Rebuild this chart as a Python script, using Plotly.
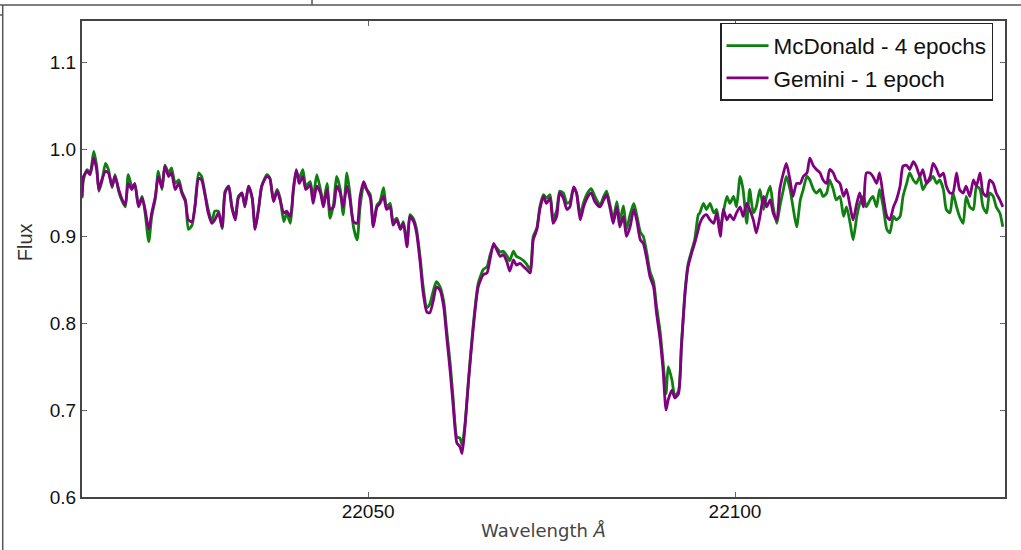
import plotly.graph_objects as go

# ---------------- data ----------------
wavelength = [
    22011.0, 22011.2, 22011.7, 22012.1, 22012.6, 22013.0, 22013.3, 22013.7, 22014.2, 22014.6,
    22015.1, 22015.5, 22016.0, 22016.4, 22016.9, 22017.3, 22017.8, 22018.2, 22018.7, 22019.2,
    22019.6, 22020.1, 22020.5, 22021.0, 22021.4, 22021.9, 22022.3, 22022.8, 22023.2, 22023.7,
    22024.2, 22024.6, 22025.1, 22025.5, 22026.0, 22026.4, 22026.9, 22027.3, 22027.8, 22028.2,
    22028.7, 22029.1, 22029.6, 22030.1, 22030.5, 22031.0, 22031.4, 22031.9, 22032.3, 22032.8,
    22033.2, 22033.7,
    22034.2, 22034.6, 22035.1, 22035.5, 22036.2, 22036.6, 22037.1, 22037.6, 22038.0, 22038.5,
    22038.9, 22039.4, 22039.8, 22040.2, 22040.6, 22041.1, 22041.5, 22042.1, 22042.5, 22043.0,
    22043.5, 22043.9, 22044.4, 22044.8, 22045.3, 22045.7, 22046.2, 22046.6, 22047.1, 22047.5,
    22048.0, 22048.5, 22048.9, 22049.4, 22049.8, 22050.3, 22050.7, 22051.2, 22051.6, 22052.1,
    22052.5, 22053.0, 22053.4, 22053.9, 22054.4, 22054.8, 22055.3,
    22055.7, 22056.2, 22056.6, 22057.1, 22057.5, 22058.0, 22058.4, 22058.9, 22059.3, 22059.8,
    22060.3, 22060.7, 22061.2, 22061.6, 22062.1, 22062.5, 22062.8, 22063.2, 22063.7, 22064.3,
    22065.0, 22065.7, 22066.2, 22066.6, 22067.1, 22067.5, 22068.0, 22068.4, 22068.9, 22069.3,
    22069.8, 22070.2, 22070.7, 22071.2, 22071.6, 22072.1, 22072.5, 22073.0, 22073.4, 22073.9,
    22074.3, 22074.8, 22075.2, 22075.7, 22076.1, 22076.6, 22077.1, 22077.5, 22078.0, 22078.4,
    22078.9,
    22079.4, 22079.9, 22080.4, 22080.9,
    22081.6, 22082.1, 22082.5, 22083.0, 22083.4, 22083.9, 22084.3, 22084.8, 22085.2, 22085.7,
    22086.2, 22086.6, 22087.1, 22087.5, 22088.0, 22088.4, 22088.9, 22089.3, 22089.8, 22090.2,
    22090.6, 22090.9, 22091.4, 22091.8, 22092.3, 22092.7, 22093.2, 22093.6, 22094.1, 22094.5,
    22095.0,
    22095.2, 22095.7, 22096.1, 22096.6, 22097.1, 22097.5, 22098.0, 22098.4, 22098.9, 22099.3,
    22099.8, 22100.2, 22100.7, 22101.1, 22101.6, 22102.0, 22102.5, 22102.9, 22103.4, 22103.9,
    22104.3, 22104.8, 22105.2, 22105.7, 22106.1, 22106.6, 22107.0, 22107.5, 22107.9, 22108.4,
    22108.9, 22109.3, 22109.8, 22110.2, 22110.7, 22111.1, 22111.6, 22112.0, 22112.5, 22112.9,
    22113.4, 22113.8, 22114.3, 22114.8, 22115.2, 22115.7, 22116.1, 22116.6, 22117.0, 22117.5,
    22117.9, 22118.4, 22118.8, 22119.3, 22119.7, 22120.2, 22120.7, 22121.1, 22121.6, 22122.0,
    22122.5, 22122.9, 22123.4, 22123.8, 22124.3, 22124.7, 22125.2, 22125.6, 22126.1, 22126.6,
    22127.0, 22127.5, 22127.9, 22128.4, 22128.8, 22129.3, 22129.7, 22130.2, 22130.6, 22131.1,
    22131.5, 22132.0, 22132.5, 22132.9, 22133.4, 22133.8, 22134.3, 22134.7, 22135.2, 22135.6,
    22136.1, 22136.5,
]

flux_mcdonald = [
    0.944, 0.965, 0.977, 0.973, 0.998, 0.981, 0.952, 0.963, 0.984, 0.977,
    0.956, 0.971, 0.952, 0.942, 0.934, 0.971, 0.958, 0.959, 0.936, 0.946,
    0.927, 0.894, 0.923, 0.944, 0.975, 0.954, 0.982, 0.973, 0.979, 0.961,
    0.965, 0.952, 0.942, 0.908, 0.913, 0.936, 0.973, 0.969, 0.948, 0.931,
    0.917, 0.929, 0.929, 0.909, 0.952, 0.958, 0.936, 0.921, 0.946, 0.950,
    0.936, 0.958,
    0.944, 0.909, 0.934, 0.958, 0.971, 0.967, 0.942, 0.954, 0.944, 0.917,
    0.927, 0.915, 0.952, 0.975, 0.967, 0.977, 0.958, 0.963, 0.944, 0.971,
    0.954, 0.938, 0.961, 0.921, 0.938, 0.969, 0.954, 0.925, 0.973, 0.950,
    0.911, 0.896, 0.934, 0.959, 0.954, 0.948, 0.913, 0.936, 0.940, 0.956,
    0.934, 0.938, 0.917, 0.921, 0.909, 0.917, 0.892,
    0.925, 0.920, 0.908, 0.875, 0.842, 0.818, 0.822, 0.838, 0.848, 0.842,
    0.825, 0.792, 0.752, 0.712, 0.669, 0.668, 0.660, 0.684, 0.738, 0.796,
    0.846, 0.862, 0.865, 0.878, 0.890, 0.887, 0.882, 0.883, 0.878, 0.872,
    0.883, 0.877, 0.875, 0.872, 0.868, 0.862, 0.900, 0.910, 0.934, 0.948,
    0.944, 0.948, 0.920, 0.930, 0.952, 0.950, 0.938, 0.940, 0.955, 0.950,
    0.925,
    0.940, 0.950, 0.955, 0.946,
    0.936, 0.946, 0.952, 0.935, 0.920, 0.940, 0.918, 0.935, 0.908, 0.925,
    0.938, 0.925, 0.905, 0.900, 0.880, 0.860, 0.848, 0.820, 0.790, 0.755,
    0.719, 0.750, 0.735, 0.716, 0.722, 0.776, 0.838, 0.868, 0.884, 0.896,
    0.925,
    0.927, 0.938, 0.931, 0.938, 0.927, 0.931, 0.908, 0.927, 0.946, 0.938,
    0.946, 0.934, 0.969, 0.954, 0.915, 0.954, 0.927, 0.934, 0.954, 0.931,
    0.946, 0.958, 0.934, 0.915, 0.934, 0.954, 0.969, 0.954, 0.934, 0.911,
    0.942, 0.954, 0.969, 0.965, 0.954, 0.950, 0.954, 0.946, 0.950, 0.965,
    0.954, 0.942, 0.946, 0.923, 0.934, 0.915, 0.896, 0.923, 0.938, 0.946,
    0.934, 0.942, 0.946, 0.934, 0.954, 0.934, 0.908, 0.904, 0.923, 0.919,
    0.923, 0.946, 0.961, 0.973, 0.965, 0.961, 0.969, 0.954, 0.961, 0.965,
    0.969, 0.961, 0.965, 0.954, 0.931, 0.927, 0.950, 0.934, 0.923, 0.915,
    0.946, 0.934, 0.931, 0.958, 0.954, 0.934, 0.927, 0.950, 0.946, 0.934,
    0.927, 0.911,
]

flux_gemini = [
    0.946, 0.969, 0.975, 0.971, 0.990, 0.977, 0.954, 0.965, 0.975, 0.973,
    0.958, 0.969, 0.954, 0.944, 0.936, 0.961, 0.954, 0.961, 0.934, 0.944,
    0.931, 0.908, 0.927, 0.946, 0.969, 0.956, 0.981, 0.969, 0.973, 0.954,
    0.961, 0.950, 0.940, 0.919, 0.917, 0.934, 0.967, 0.965, 0.946, 0.927,
    0.915, 0.919, 0.927, 0.911, 0.950, 0.958, 0.934, 0.919, 0.944, 0.950,
    0.934, 0.958,
    0.944, 0.908, 0.934, 0.958, 0.969, 0.967, 0.940, 0.952, 0.942, 0.927,
    0.929, 0.923, 0.954, 0.977, 0.961, 0.969, 0.954, 0.959, 0.938, 0.958,
    0.950, 0.934, 0.954, 0.931, 0.934, 0.958, 0.950, 0.934, 0.958, 0.944,
    0.917, 0.915, 0.946, 0.963, 0.954, 0.944, 0.911, 0.934, 0.938, 0.946,
    0.931, 0.934, 0.913, 0.919, 0.908, 0.915, 0.888,
    0.923, 0.917, 0.904, 0.869, 0.835, 0.813, 0.812, 0.827, 0.842, 0.838,
    0.819, 0.785, 0.743, 0.704, 0.662, 0.658, 0.650, 0.681, 0.735, 0.792,
    0.842, 0.856, 0.858, 0.873, 0.892, 0.885, 0.877, 0.879, 0.871, 0.860,
    0.873, 0.867, 0.869, 0.865, 0.862, 0.858, 0.896, 0.908, 0.931, 0.946,
    0.938, 0.944, 0.915, 0.923, 0.950, 0.944, 0.931, 0.934, 0.957, 0.950,
    0.919,
    0.935, 0.945, 0.950, 0.940,
    0.934, 0.942, 0.948, 0.931, 0.915, 0.934, 0.911, 0.923, 0.900, 0.911,
    0.931, 0.919, 0.896, 0.892, 0.873, 0.854, 0.842, 0.812, 0.781, 0.746,
    0.700, 0.712, 0.723, 0.714, 0.719, 0.773, 0.835, 0.865, 0.881, 0.892,
    0.908,
    0.915, 0.923, 0.925, 0.919, 0.915, 0.927, 0.900, 0.931, 0.919, 0.925,
    0.919, 0.927, 0.934, 0.923, 0.938, 0.931, 0.919, 0.904, 0.923, 0.946,
    0.934, 0.942, 0.927, 0.919, 0.954, 0.973, 0.984, 0.965, 0.946, 0.961,
    0.961, 0.969, 0.973, 0.990, 0.981, 0.977, 0.973, 0.965, 0.961, 0.977,
    0.973, 0.965, 0.961, 0.946, 0.954, 0.934, 0.919, 0.938, 0.950, 0.934,
    0.973, 0.973, 0.969, 0.961, 0.973, 0.946, 0.923, 0.919, 0.934, 0.942,
    0.958, 0.981, 0.982, 0.977, 0.986, 0.981, 0.969, 0.977, 0.961, 0.969,
    0.984, 0.977, 0.969, 0.973, 0.958, 0.950, 0.950, 0.973, 0.954, 0.950,
    0.958, 0.946, 0.965, 0.958, 0.973, 0.950, 0.946, 0.965, 0.961, 0.950,
    0.942, 0.934,
]

series_names = ["McDonald - 4 epochs", "Gemini - 1 epoch"]
y_ticks = [0.6, 0.7, 0.8, 0.9, 1.0, 1.1]
x_ticks = [22050, 22100]

assert len(wavelength) == len(flux_mcdonald) == len(flux_gemini), (
    len(wavelength), len(flux_mcdonald), len(flux_gemini))

# ---------------- figure ----------------
fig = go.Figure()
fig.add_trace(go.Scatter(
    x=wavelength, y=flux_mcdonald, mode="lines", name=series_names[0],
    legendgroup="a",
    line=dict(color="#0f800f", width=2.8, shape="spline", smoothing=0.6),
))
fig.add_trace(go.Scatter(
    x=wavelength, y=flux_gemini, mode="lines", name=series_names[1],
    legendgroup="b",
    line=dict(color="#800080", width=2.8, shape="spline", smoothing=0.6),
))

axis_common = dict(
    showline=True, linecolor="#444444", linewidth=2, mirror="ticks",
    ticks="inside", ticklen=5, tickwidth=1, tickcolor="#666666",
    showgrid=False, zeroline=False, automargin=False,
    tickfont=dict(family="Liberation Sans, Arial, sans-serif", size=19, color="#111111"),
)

fig.update_xaxes(
    range=[22011.0, 22136.8], tickvals=x_ticks, tickformat="d",
    ticklabelstandoff=-4,
    title=dict(text="Wavelength <i>Å</i>", standoff=4,
               font=dict(family="DejaVu Sans, sans-serif", size=18, color="#444444")),
    **axis_common,
)
fig.update_yaxes(
    range=[0.6, 1.148], tickvals=y_ticks, tickformat=".1f",
    **axis_common,
)

# y-axis title placed where the reference has it
fig.add_annotation(
    text="Flux", xref="paper", yref="paper", x=-0.0609, y=0.5347,
    xanchor="center", yanchor="middle", textangle=-90, showarrow=False,
    font=dict(family="Liberation Sans, Arial, sans-serif", size=20, color="#333333"),
)

# frame lines of the surrounding page crop
frame = dict(type="line", xref="paper", yref="paper", line=dict(color="#555555", width=1.5))
fig.add_shape(x0=-0.0888, x1=1.0173, y0=1.0336, y1=1.0336, **frame)
fig.add_shape(x0=-0.0859, x1=-0.0859, y0=1.0336, y1=-0.1113, **frame)
fig.add_shape(x0=-0.0888, x1=-0.0859, y0=1.0126, y1=1.0126, **frame)
fig.add_shape(x0=0.2492, x1=0.2492, y0=1.0336, y1=1.0441, **frame)

fig.update_layout(
    width=1021, height=550,
    margin=dict(l=82, r=16, t=21, b=53, autoexpand=False),
    paper_bgcolor="white", plot_bgcolor="white",
    font=dict(family="Liberation Sans, Arial, sans-serif", color="#111111"),
    showlegend=True,
    legend=dict(
        x=0.987, y=0.996, xanchor="right", yanchor="top",
        bgcolor="white", bordercolor="#222222", borderwidth=1.5,
        font=dict(family="Liberation Sans, Arial, sans-serif", size=22.5, color="#111111"),
        tracegroupgap=0, itemwidth=42,
    ),
)

fig.write_html("out.html", config={"displayModeBar": False},
               post_script="document.body.style.margin='0';")
